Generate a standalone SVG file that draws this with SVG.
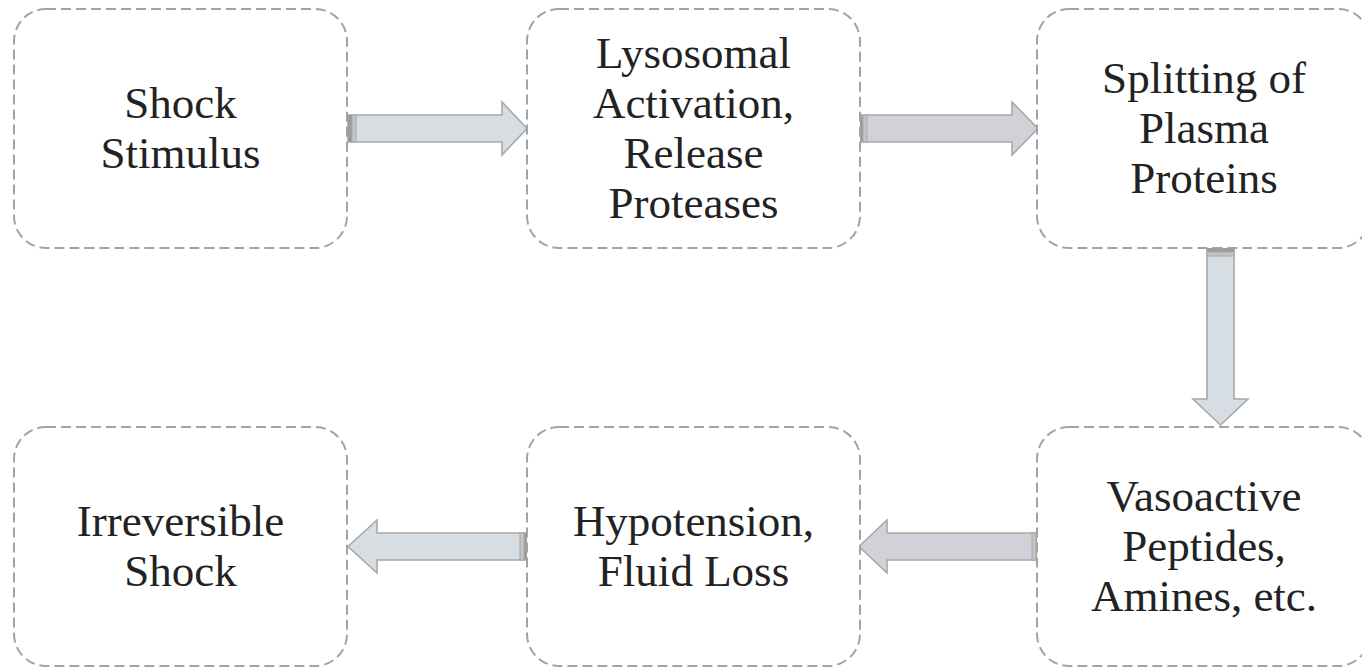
<svg xmlns="http://www.w3.org/2000/svg" width="1362" height="667" viewBox="0 0 1362 667">
  <style>
    .box { fill: #ffffff; stroke: #a3a3a3; stroke-width: 2; stroke-dasharray: 10 5; }
    .label { font-family: "Liberation Serif", "DejaVu Serif", serif; font-size: 45px; fill: #222222; text-anchor: middle; }
    .arrow { stroke: #a8a8a8; stroke-width: 1.6; stroke-linejoin: miter; }
    .blue { fill: #d6dde3; }
    .lilac { fill: #d3d0da; }
    .band-dark { fill: #9c9c9c; }
    .band-light { fill: #c4c4c4; stroke: #a8a8a8; stroke-width: 1; }
  </style>
  <rect width="1362" height="667" fill="#ffffff"/>

  <!-- connectors: block arrows between stages -->
  <g id="connectors">
    <g id="arrow-1">
      <path class="arrow blue" d="M348,115 H502 V102 L527,128.5 L502,155 V142 H348 Z"/>
      <rect class="band-dark" x="348" y="115" width="4" height="27"/>
      <rect class="band-light" x="352" y="115" width="4" height="27"/>
    </g>
    <g id="arrow-2">
      <path class="arrow lilac" d="M859,115 H1012 V102 L1038,128.5 L1012,155 V142 H859 Z"/>
      <rect class="band-dark" x="859" y="115" width="4" height="27"/>
      <rect class="band-light" x="863" y="115" width="4" height="27"/>
    </g>
    <g id="arrow-3">
      <path class="arrow blue" d="M1207,248 V399 H1193 L1220.5,425 L1248,399 H1234 V248 Z"/>
      <rect class="band-dark" x="1207" y="248" width="27" height="4"/>
      <rect class="band-light" x="1207" y="252" width="27" height="4"/>
    </g>
    <g id="arrow-4">
      <path class="arrow lilac" d="M1040,533 H887 V520 L859,546.5 L887,573 V560 H1040 Z"/>
      <rect class="band-dark" x="1036" y="533" width="4" height="27"/>
      <rect class="band-light" x="1032" y="533" width="4" height="27"/>
    </g>
    <g id="arrow-5">
      <path class="arrow blue" d="M528,533 H377 V520 L348,546.5 L377,573 V560 H528 Z"/>
      <rect class="band-dark" x="524" y="533" width="4" height="27"/>
      <rect class="band-light" x="520" y="533" width="4" height="27"/>
    </g>
  </g>

  <!-- top row -->
  <g id="shock-stimulus">
    <rect class="box" x="14" y="9" width="333" height="239" rx="32"/>
    <text class="label" x="180.5" y="118">Shock</text>
    <text class="label" x="180.5" y="168">Stimulus</text>
  </g>
  <g id="lysosomal-activation">
    <rect class="box" x="527" y="9" width="333" height="239" rx="32"/>
    <text class="label" x="693.5" y="68">Lysosomal</text>
    <text class="label" x="693.5" y="118">Activation,</text>
    <text class="label" x="693.5" y="168">Release</text>
    <text class="label" x="693.5" y="218">Proteases</text>
  </g>
  <g id="splitting-plasma-proteins">
    <rect class="box" x="1037" y="9" width="333" height="239" rx="32"/>
    <text class="label" x="1204" y="93">Splitting of</text>
    <text class="label" x="1204" y="143">Plasma</text>
    <text class="label" x="1204" y="193">Proteins</text>
  </g>

  <!-- bottom row -->
  <g id="vasoactive-peptides">
    <rect class="box" x="1037" y="427" width="333" height="239" rx="32"/>
    <text class="label" x="1204" y="511">Vasoactive</text>
    <text class="label" x="1204" y="561">Peptides,</text>
    <text class="label" x="1204" y="611">Amines, etc.</text>
  </g>
  <g id="hypotension-fluid-loss">
    <rect class="box" x="527" y="427" width="333" height="239" rx="32"/>
    <text class="label" x="693.5" y="536">Hypotension,</text>
    <text class="label" x="693.5" y="586">Fluid Loss</text>
  </g>
  <g id="irreversible-shock">
    <rect class="box" x="14" y="427" width="333" height="239" rx="32"/>
    <text class="label" x="180.5" y="536">Irreversible</text>
    <text class="label" x="180.5" y="586">Shock</text>
  </g>
</svg>
